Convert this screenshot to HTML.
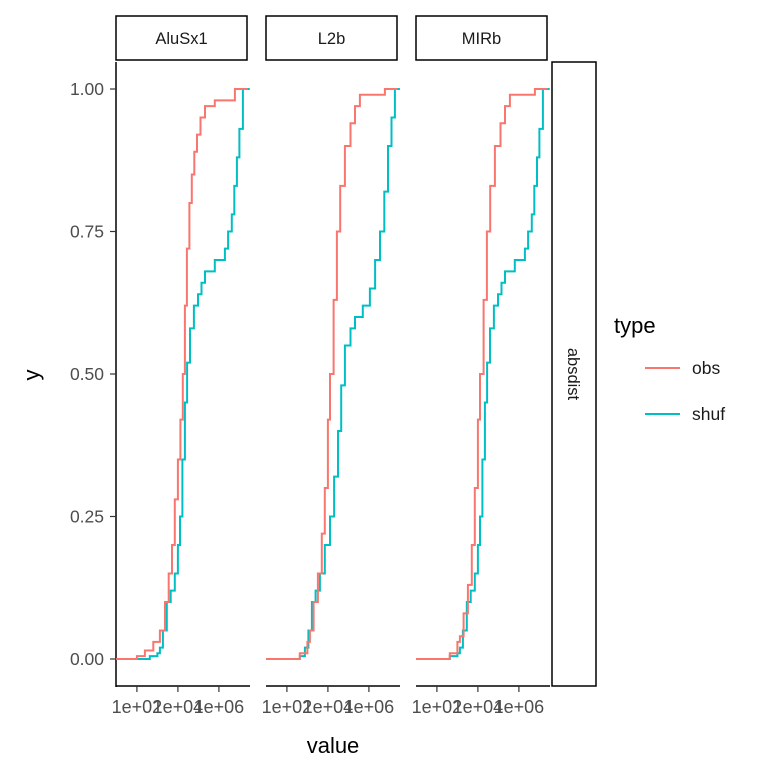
<!DOCTYPE html>
<html><head><meta charset="utf-8"><style>
body{margin:0;background:#fff}
svg text{font-family:"Liberation Sans",Arial,sans-serif}
</style></head><body>
<svg id="c" width="768" height="768"></svg>
<script>
const panels=["AluSx1","L2b","MIRb"];
const yTicks=[0,0.25,0.5,0.75,1];
const yTickLabels=["0.00","0.25","0.50","0.75","1.00"];
const xTicks=[2,4,6];
const xTickLabels=["1e+02","1e+04","1e+06"];
const obsLog=[[0.98,2.0,2.39,2.8,3.12,3.37,3.55,3.71,3.85,4.0,4.12,4.24,4.34,4.44,4.56,4.68,4.8,4.93,5.1,5.32,5.8,6.54,6.78,7.41],
[0.98,2.63,3.0,3.12,3.3,3.51,3.7,3.85,4.0,4.1,4.28,4.44,4.6,4.83,5.1,5.32,5.56,6.54,6.78,7.41],
[0.98,2.63,3.0,3.12,3.3,3.51,3.7,3.85,4.0,4.1,4.28,4.44,4.6,4.83,5.1,5.32,5.56,6.54,6.78,7.41]];
const obsY=[[0,0.005,0.015,0.03,0.05,0.1,0.15,0.2,0.28,0.35,0.42,0.5,0.62,0.72,0.8,0.85,0.89,0.92,0.95,0.97,0.98,0.98,1,1],
[0,0.01,0.03,0.05,0.1,0.15,0.22,0.3,0.42,0.5,0.63,0.75,0.83,0.9,0.94,0.97,0.99,0.99,1,1],
[0,0.01,0.03,0.04,0.08,0.13,0.2,0.3,0.42,0.5,0.63,0.75,0.83,0.9,0.94,0.97,0.99,0.99,1,1]];
const shufLog=[[0.98,2.63,3.0,3.12,3.27,3.46,3.65,3.85,4.0,4.1,4.22,4.34,4.45,4.59,4.78,4.98,5.15,5.32,5.8,6.29,6.45,6.63,6.75,6.88,7.0,7.17,7.5],
[0.98,2.63,2.88,3.05,3.22,3.4,3.61,3.85,4.1,4.3,4.49,4.65,4.83,5.1,5.32,5.7,6.05,6.3,6.54,6.75,6.93,7.1,7.27,7.51],
[0.98,2.63,3.0,3.12,3.27,3.46,3.65,3.85,4.0,4.1,4.22,4.34,4.45,4.59,4.78,4.98,5.15,5.32,5.8,6.29,6.45,6.63,6.75,6.88,7.0,7.17,7.5]];
const shufY=[[0,0.005,0.01,0.02,0.05,0.1,0.12,0.15,0.2,0.25,0.35,0.45,0.52,0.58,0.62,0.64,0.66,0.68,0.7,0.72,0.75,0.78,0.83,0.88,0.93,1,1],
[0,0.005,0.02,0.05,0.1,0.12,0.15,0.2,0.25,0.32,0.4,0.48,0.55,0.58,0.6,0.62,0.65,0.7,0.75,0.82,0.9,0.95,1,1],
[0,0.005,0.01,0.02,0.05,0.1,0.12,0.15,0.2,0.25,0.35,0.45,0.52,0.58,0.62,0.64,0.66,0.68,0.7,0.72,0.75,0.78,0.83,0.88,0.93,1,1]];
const NS="http://www.w3.org/2000/svg",svg=document.getElementById("c");
function mk(t,a,p){const e=document.createElementNS(NS,t);for(const k in a)e.setAttribute(k,a[k]);(p||svg).appendChild(e);return e;}
const yS=v=>659-570*v;
const xS=(i,l)=>116+150*i+(l-0.98)*20.5;
let e=mk("line",{x1:116,y1:62,x2:116,y2:687,stroke:"#000","stroke-width":1.5});

yTicks.forEach((v,j)=>{
 e=mk("line",{x1:110,x2:116,y1:yS(v),y2:yS(v),stroke:"#333","stroke-width":1.2});
 
 e=mk("text",{x:104,y:yS(v)+6,"text-anchor":"end","font-size":17.5,fill:"#4d4d4d"});e.textContent=yTickLabels[j];
 
});
panels.forEach((p,i)=>{
 const L=116+150*i;
 e=mk("rect",{x:L,y:16,width:131,height:44,fill:"#fff",stroke:"#000","stroke-width":1.5});
 
 e=mk("text",{x:L+65.5,y:44,"text-anchor":"middle","font-size":16.5,fill:"#1a1a1a"});e.textContent=p;
 
 e=mk("line",{x1:L,x2:L+134,y1:686,y2:686,stroke:"#000","stroke-width":1.5});
 
 xTicks.forEach((t,j)=>{
  const x=xS(i,t);
  e=mk("line",{x1:x,x2:x,y1:686,y2:692,stroke:"#333","stroke-width":1.2});
  
  e=mk("text",{x:x,y:713,"text-anchor":"middle","font-size":18,fill:"#4d4d4d"});e.textContent=xTickLabels[j];
  
 });
 [[shufLog,shufY,"#00BFC4","shuf"],[obsLog,obsY,"#F8766D","obs"]].forEach(([lx,ly,c,n])=>{
  let d="";lx[i].forEach((l,k)=>{const x=xS(i,l).toFixed(1),y=yS(ly[i][k]).toFixed(1);
   if(k===0)d+="M"+x+","+y;else d+="H"+x+"V"+y;});
  e=mk("path",{d:d,fill:"none",stroke:c,"stroke-width":2});
  
 });
});
e=mk("rect",{x:552,y:62,width:44,height:624,fill:"#fff",stroke:"#000","stroke-width":1.5});

e=mk("text",{x:568,y:374,"text-anchor":"middle","font-size":16.5,fill:"#1a1a1a",transform:"rotate(90 568 374)"});e.textContent="absdist";

e=mk("text",{x:39,y:375,"text-anchor":"middle","font-size":22,transform:"rotate(-90 39 375)"});e.textContent="y";

e=mk("text",{x:333,y:753,"text-anchor":"middle","font-size":22});e.textContent="value";

e=mk("text",{x:614,y:333,"font-size":22});e.textContent="type";

[["obs","#F8766D",368],["shuf","#00BFC4",414]].forEach(([n,c,y])=>{
 e=mk("line",{x1:645,x2:680,y1:y,y2:y,stroke:c,"stroke-width":2});
 
 e=mk("text",{x:692,y:y+6,"font-size":17.5,fill:"#1a1a1a"});e.textContent=n;
 
});
</script>
</body></html>
